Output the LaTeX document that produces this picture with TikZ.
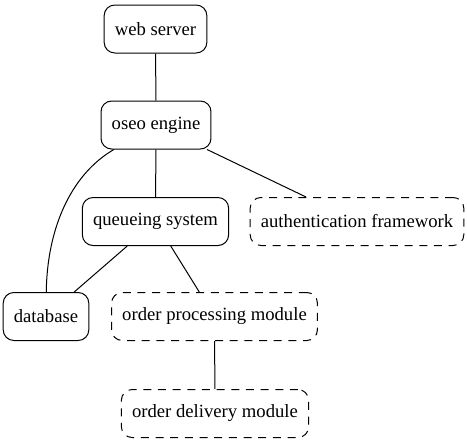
\documentclass[tikz,border=0pt]{standalone}
\usepackage{fontspec}
\setmainfont{Liberation Serif}
\usepackage{tikz}
\usetikzlibrary{calc}
\usetikzlibrary{shapes}

\begin{document}
\begin{tikzpicture}[x=0.75pt,y=-0.75pt,line width=0.75pt,
    box/.style={rounded corners=8pt,draw,minimum height=36pt,inner xsep=8pt,
      font=\fontsize{14}{16.8}\selectfont},
    dashbox/.style={box,dash pattern=on 6pt off 5pt}]
      \useasboundingbox (0,0) rectangle (467,443);
      \node[box] (web) at (155.5,29) {web server};
      \node[box] (engine) at (156,125) {oseo engine};
      \node[box] (queue) at (155.5,221.5) {queueing system};
      \node[dashbox] (auth) at (357,221.5) {authentication framework};
      \node[box] (db) at (46,316.5) {database};
      \node[dashbox] (proc) at (214.5,316.5) {order processing module};
      \node[dashbox] (deliv) at (215,413.5) {order delivery module};
      \path (web) edge (engine);
      \path (engine) edge (queue);
      \path (engine) edge (auth);
      \draw (engine) .. controls (70,175) and (47,230) .. (db);
      \path (queue) edge (db);
      \path (queue) edge (proc);
      \path (proc) edge (deliv);
    \end{tikzpicture}
\end{document}
